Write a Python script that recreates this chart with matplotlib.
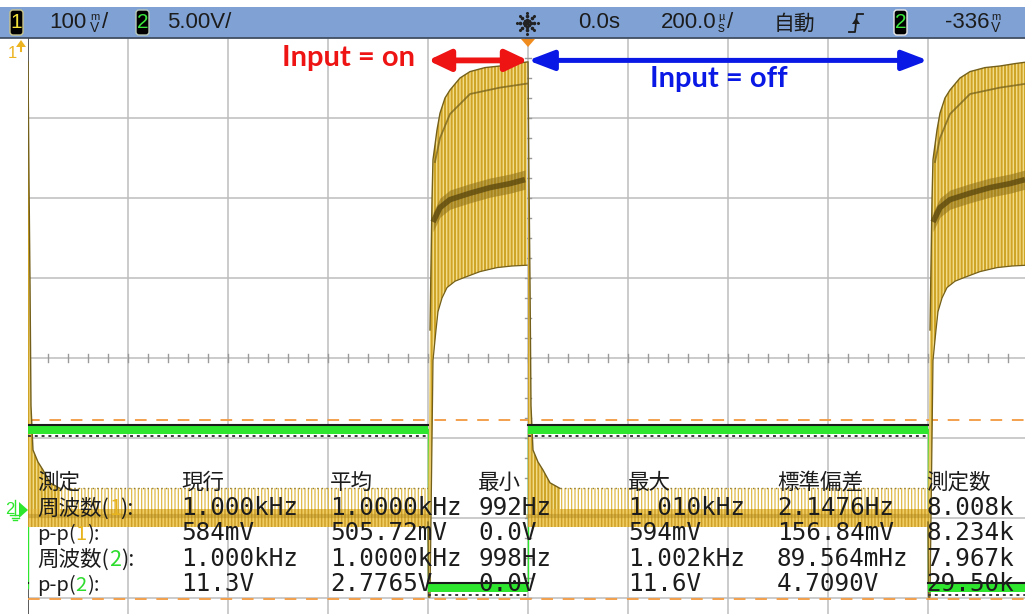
import numpy as np
import matplotlib
matplotlib.use("Agg")
import matplotlib.pyplot as plt
from matplotlib.patches import Rectangle, FancyBboxPatch, FancyArrowPatch, Polygon

# ---------------------------------------------------------------- data
# time base / screen
US_PER_DIV = 200          # 200 us/div
N_XDIV, N_YDIV = 10, 8
PERIOD_US = 1000          # 1 kHz gate
ON_START_US, ON_END_US = -200, 0
PULSE_OFFSETS_US = [-1000, 0, 1000]

# channel 1 (divisions) while input is on, time relative to the input-off edge
on_top_t = [-196, -192, -190, -182, -176, -166, -156, -136, -116, -86, -56, -26, -2]
on_top_v = [0.35, 1.98, 2.48, 2.85, 3.06, 3.25, 3.35, 3.50, 3.58, 3.63, 3.65, 3.68, 3.70]
on_top2_t = [-186, -176, -156, -116, -56, -2]
on_top2_v = [2.45, 2.75, 3.05, 3.30, 3.38, 3.43]
on_bot_t = [-200, -199, -196, -192, -190, -184, -180, -172, -162, -146, -130, -96, -62, -32, -2]
on_bot_v = [-2.05, -2.99, -2.99, -1.03, -0.03, 0.35, 0.58, 0.75, 0.88, 0.96, 1.00, 1.08, 1.13, 1.15, 1.16]
on_mid_t = [-190, -176, -156, -116, -76, -36, -6]
on_mid_v = [1.70, 1.88, 1.98, 2.06, 2.13, 2.18, 2.23]

# channel 1 after the input-off edge
off_top_t = [0, 2, 4, 6, 10, 14, 20, 30, 44, 64]
off_top_v = [3.70, 2.20, 0.95, -0.60, -1.15, -1.21, -1.30, -1.40, -1.56, -1.63]
off_spike_top = -1.63
off_band_hi, off_band_lo, off_band_mid = -1.89, -2.11, -1.98

# channel 2 gate levels (divisions)
ch2_high, ch2_low = -0.89, -2.87
# cursor levels (divisions)
cursor_levels = [-0.775, -3.01]

# measurement table
meas_headers = ["測定", "現行", "平均", "最小", "最大", "標準偏差", "測定数"]
meas_names = [("周波数(", "1", "):"), ("p-p(", "1", "):"), ("周波数(", "2", "):"), ("p-p(", "2", "):")]
meas_current = ["1.000kHz", "584mV", "1.000kHz", "11.3V"]
meas_mean = ["1.0000kHz", "505.72mV", "1.0000kHz", "2.7765V"]
meas_min = ["992Hz", "0.0V", "998Hz", "0.0V"]
meas_max = ["1.010kHz", "594mV", "1.002kHz", "11.6V"]
meas_std = ["2.1476Hz", "156.84mV", "89.564mHz", "4.7090V"]
meas_count = ["8.008k", "8.234k", "7.967k", "29.50k"]

# ---------------------------------------------------------------- style
W, H = 1025, 614
GRID = "#BDBDBD"
GOLD_FACE = "#F3DC88"
GOLD_LINE = "#CFA426"
GOLD_DARK = "#74601A"
BAND_FACE = "#F0CD62"
GREEN = "#2EE62E"
ORANGE = "#F2A04C"
CH1_COL = "#EDB421"
TXT = "#1C1C1C"
MONO = "DejaVu Sans Mono"
CJK = ["Noto Sans CJK JP", "DejaVu Sans"]
UI = ["Liberation Sans", "DejaVu Sans"]
MID_HALF = 0.12           # half-height of the dense trace band (div)

fig = plt.figure(figsize=(W / 100, H / 100), dpi=100)
fig.patch.set_facecolor("white")

px_left, px_top, px_dx, px_dy = 28, 38, 100, 80
ax = fig.add_axes([px_left / W, (H - (px_top + N_YDIV * px_dy)) / H,
                   N_XDIV * px_dx / W, N_YDIV * px_dy / H])
xmin, xmax = -N_XDIV / 2 * US_PER_DIV, N_XDIV / 2 * US_PER_DIV
ax.set_xlim(xmin, xmax)
ax.set_ylim(-N_YDIV / 2, N_YDIV / 2)
ax.axis("off")

# graticule
for t in np.arange(xmin, xmax + 1, US_PER_DIV):
    ax.axvline(t, color=GRID, lw=1.1, zorder=0)
for v in np.arange(-N_YDIV / 2, N_YDIV / 2 + 0.1, 1):
    ax.axhline(v, color=GRID, lw=1.1, zorder=0)
ax.axvline(xmin, color="#5C5C5C", lw=1.4, zorder=0.5)
for t in np.arange(xmin, xmax + 1, US_PER_DIV / 5):
    ax.plot([t, t], [-0.045, 0.045], color="#9A9A9A", lw=1.0, zorder=0.2)
for v in np.arange(-N_YDIV / 2, N_YDIV / 2 + 0.01, 0.25):
    ax.plot([-6, 6], [v, v], color="#9A9A9A", lw=1.0, zorder=0.2)

# cursors
for lvl in cursor_levels:
    ax.axhline(lvl, color=ORANGE, lw=1.4, dashes=(6, 5), zorder=1)


def hatched(xs, ys, face, hcol, hatch, hlw, z):
    plt.rcParams["hatch.linewidth"] = hlw
    p = Polygon(np.column_stack([xs, ys]), closed=True, facecolor=face,
                edgecolor=hcol, lw=0, hatch=hatch, zorder=z)
    try:
        p.set_hatch_linewidth(hlw)
    except AttributeError:
        pass
    ax.add_patch(p)
    return p


# channel 2 gate
for off in PULSE_OFFSETS_US:
    segs = [(off + ON_END_US, off + PERIOD_US + ON_START_US, ch2_high),
            (off + ON_START_US, off + ON_END_US, ch2_low)]
    for t0, t1, lv in segs:
        ax.fill([t0, t1, t1, t0], [lv - 0.055, lv - 0.055, lv + 0.055, lv + 0.055],
                color=GREEN, lw=0, zorder=3.6)
        ax.plot([t0, t1], [lv + 0.055, lv + 0.055], color="#1A1A1A", lw=1.5, zorder=3.7)
        ax.plot([t0, t1], [lv - 0.09, lv - 0.09], color="#3A3A3A", lw=1.4,
                dashes=(1.5, 2.0), zorder=3.7)
    for te in (off + ON_START_US, off + ON_END_US):
        ax.plot([te, te], [ch2_low, ch2_high], color=GREEN, lw=1.0, zorder=2)

# channel 1 bursts
for off in PULSE_OFFSETS_US:
    # input on
    xs = [off + t for t in on_top_t] + [off + t for t in on_bot_t[::-1]]
    ys = list(on_top_v) + list(on_bot_v[::-1])
    hatched(xs, ys, GOLD_FACE, GOLD_LINE, "|||||", 1.4, 3)
    ax.plot([off + t for t in on_top_t], on_top_v, color=GOLD_DARK, lw=1.0, zorder=3.3)
    ax.plot([off + t for t in on_top2_t], on_top2_v, color=GOLD_DARK, lw=1.3, alpha=0.75, zorder=3.3)
    ax.plot([off + t for t in on_bot_t], on_bot_v, color=GOLD_DARK, lw=0.9, zorder=3.3)
    mt = [off + t for t in on_mid_t]
    ax.fill_between(mt, [v - MID_HALF for v in on_mid_v], [v + MID_HALF for v in on_mid_v],
                    color="#8C6E16", alpha=0.55, lw=0, zorder=3.35)
    ax.plot(mt, on_mid_v, color="#5E4A0E", lw=4.0, alpha=0.8,
            solid_capstyle="butt", zorder=3.4)

    # input off: decay after the edge
    xs = [off + t for t in off_top_t] + [off + off_top_t[-1], off + off_top_t[0]]
    ys = list(off_top_v) + [off_band_lo, off_band_lo]
    hatched(xs, ys, GOLD_FACE, GOLD_LINE, "|||||", 1.4, 3)
    ax.plot([off + t for t in off_top_t], off_top_v, color=GOLD_DARK, lw=1.0, zorder=3.3)

    # settled ringing
    t0, t1 = off + off_top_t[-1], off + PERIOD_US + ON_START_US
    hatched([t0, t1, t1, t0], [off_band_hi, off_band_hi, off_spike_top, off_spike_top],
            "none", "#E0BA48", "|||||", 0.9, 2.8)
    ax.plot([t0, t1], [off_spike_top, off_spike_top], color="#8D7A3C", lw=1.0,
            dashes=(1, 2.3), zorder=2.9)
    t0 = off + ON_END_US
    hatched([t0, t1, t1, t0], [off_band_lo, off_band_lo, off_band_hi, off_band_hi],
            BAND_FACE, "#CFA028", "|||||", 1.1, 3)
    ax.plot([t0, t1], [off_band_mid, off_band_mid], color="#A8821A", lw=3.0,
            alpha=0.4, zorder=3.2)

# input on / off spans
arrow_v = 3.72
ax.add_patch(FancyArrowPatch((ON_START_US, arrow_v), (ON_END_US, arrow_v),
                             arrowstyle="<|-|>,head_length=0.95,head_width=0.45",
                             mutation_scale=14, color="#EE1414", lw=4.2,
                             shrinkA=0, shrinkB=0, zorder=6))
ax.add_patch(FancyArrowPatch((ON_END_US, arrow_v), (PERIOD_US + ON_START_US, arrow_v),
                             arrowstyle="<|-|>,head_length=1.1,head_width=0.42",
                             mutation_scale=14, color="#0A18E6", lw=3.6,
                             shrinkA=0, shrinkB=0, zorder=6))

# ---------------------------------------------------------------- overlay
ov = fig.add_axes([0, 0, 1, 1], zorder=10)
ov.set_xlim(0, W)
ov.set_ylim(H, 0)
ov.axis("off")

ov.text(415, 58, "Input = on", color="#EE1414", fontsize=21, fontweight="bold",
        family=["Lato", "DejaVu Sans"], ha="right", va="center")
ov.text(719, 79, "Input = off", color="#0A18E6", fontsize=21, fontweight="bold",
        family=["Lato", "DejaVu Sans"], ha="center", va="center")

# status bar
ov.add_patch(Rectangle((0, 7), W, 31, facecolor="#7FA1D3", edgecolor="none"))
ov.plot([0, W], [38, 38], color="#3A475A", lw=1.2)


def chan_box(x, label, col, edge):
    ov.add_patch(FancyBboxPatch((x, 10), 13, 25, boxstyle="round,pad=0,rounding_size=3",
                                facecolor="black", edgecolor=edge, lw=1.0))
    ov.text(x + 6.5, 23, label, color=col, fontsize=15, family=UI, ha="center", va="center")


def stacked_unit(x, top, bottom):
    ov.text(x, 17, top, fontsize=8, family=UI, color=TXT, ha="center", va="center")
    ov.text(x, 28, bottom, fontsize=10, family=UI, color=TXT, ha="center", va="center")


chan_box(10, "1", "#F2E23A", "#C9C48A")
ov.text(49, 23, "100", fontsize=16, family=UI, color=TXT, va="center")
stacked_unit(95, "m", "V")
ov.text(102, 23, "/", fontsize=16, family=UI, color=TXT, va="center")
chan_box(136, "2", "#3BE83B", "#B9C9B9")
ov.text(167, 23, "5.00V/", fontsize=16, family=UI, color=TXT, va="center")

# acquisition icon
for ang in np.arange(0, 360, 45):
    for r in (3.5, 7, 10.5):
        ov.plot(527 + r * np.cos(np.radians(ang)), 23 + r * np.sin(np.radians(ang)),
                "o", ms=1.6 if r < 10 else 1.2, color="#222222")
ov.plot(527, 23, "o", ms=2.0, color="#222222")

ov.text(578, 23, "0.0s", fontsize=16, family=UI, color=TXT, va="center")
ov.text(661, 23, "200.0", fontsize=16, family=UI, color=TXT, va="center")
stacked_unit(721, "µ", "s")
ov.text(727, 23, "/", fontsize=16, family=UI, color=TXT, va="center")
ov.text(774, 24, "自動", fontsize=15, family=CJK, color=TXT, va="center")
# rising-edge trigger symbol
ov.plot([849, 855, 857, 863], [32, 32, 14, 14], color=TXT, lw=1.3)
ov.add_patch(Polygon([[852, 24], [860, 24], [856, 18]], closed=True, color=TXT, lw=0))
chan_box(894, "2", "#3BE83B", "#E8E8E8")
ov.text(945, 23, "-336", fontsize=16, family=UI, color=TXT, va="center")
stacked_unit(996, "m", "V")

# channel / trigger markers
ov.add_patch(Polygon([[521, 39], [535, 39], [528, 47]], closed=True, color="#F08C1E", lw=0))
ov.add_patch(Polygon([[16, 47], [26, 47], [21, 40]], closed=True, color=CH1_COL, lw=0))
ov.plot([21, 21], [46, 51], color=CH1_COL, lw=1.5)
ov.text(12, 54, "1", fontsize=12, family=UI, color=CH1_COL, ha="center", va="center")
ov.add_patch(Polygon([[19, 502], [19, 518], [28, 510]], closed=True, color=GREEN, lw=0))
ov.text(10, 509, "2", fontsize=12, family=UI, color=GREEN, ha="center", va="center")
for i, half in enumerate((5, 3.5, 2)):
    ov.plot([15 - half, 15 + half], [515 + 2.5 * i, 515 + 2.5 * i], color=GREEN, lw=1.0)
ov.plot([15, 15], [500, 515], color=GREEN, lw=1.0)

# measurement table
fig.canvas.draw()
renderer = fig.canvas.get_renderer()
col_x = [37, 181, 330, 478, 628, 777, 926]
header_base = 489
row_base = [515, 540, 566, 591]
for x, h in zip(col_x, meas_headers):
    ov.text(x, header_base, h, fontsize=15.5, family=CJK, color=TXT, va="baseline", zorder=20)

chan_cols = {"1": "#E8B41E", "2": "#2EDC2E"}
for yb, (pre, ch, post) in zip(row_base, meas_names):
    x = col_x[0]
    size = 15.5 if pre.startswith("周") else 14.5
    for s, c in ((pre, TXT), (ch, chan_cols[ch]), (post, TXT)):
        t = ov.text(x, yb, s, fontsize=size, family=CJK, color=c, va="baseline", zorder=20)
        x += t.get_window_extent(renderer).width

columns = [meas_current, meas_mean, meas_min, meas_max, meas_std, meas_count]
for x, col in zip(col_x[1:], columns):
    for yb, s in zip(row_base, col):
        ov.text(x, yb, s, fontsize=17.5, family=MONO, color=TXT, va="baseline", zorder=20)

fig.savefig("out.png", dpi=100)
